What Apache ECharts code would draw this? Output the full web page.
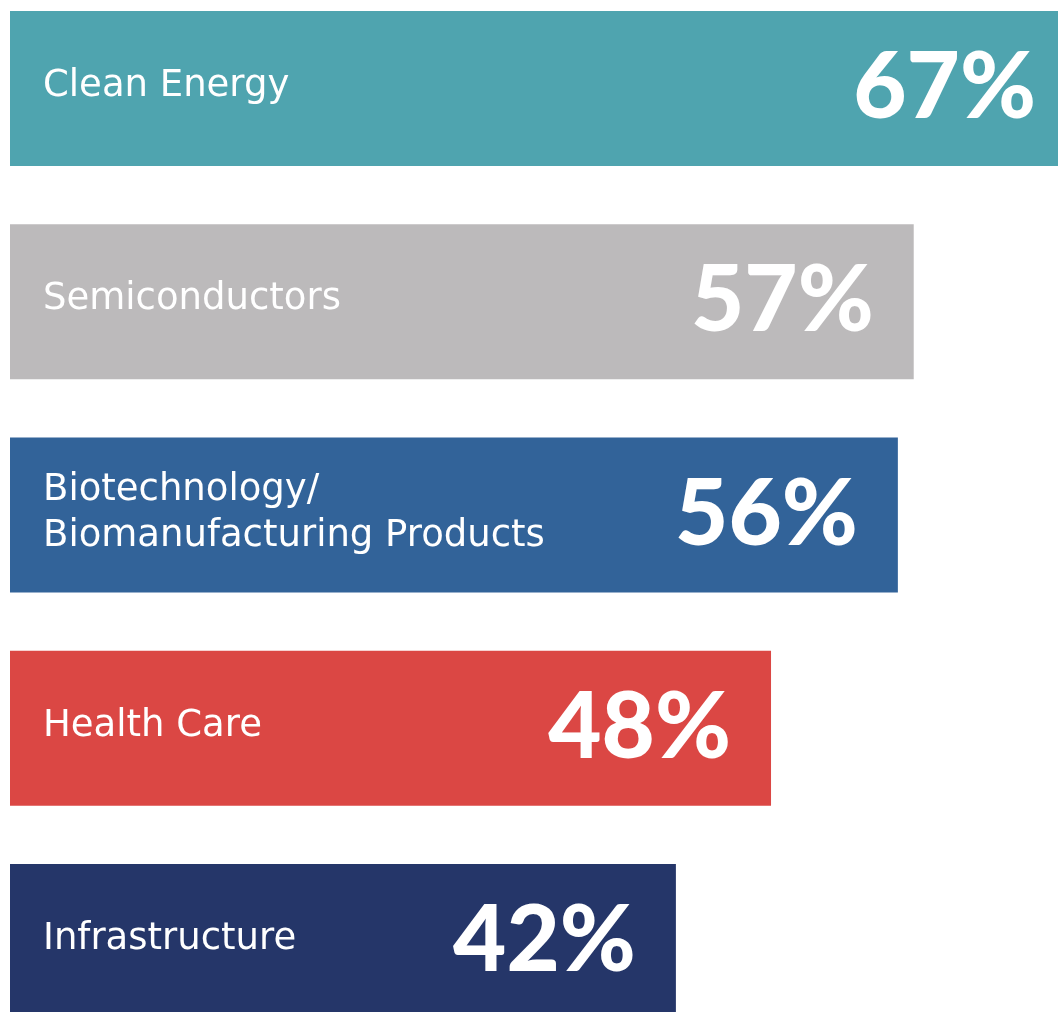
<!DOCTYPE html>
<html>
<head>
<meta charset="utf-8">
<script src="https://cdn.jsdelivr.net/npm/echarts@6/dist/echarts.min.js"></script>
<style>
  html, body { margin: 0; padding: 0; background: #fff; overflow: hidden; }
  #chart { position: absolute; left: 0; top: -18px; width: 1058px; height: 1066px; }
</style>
</head>
<body>
<div id="chart"></div>
<script>
// data
var categories = ['Clean Energy', 'Semiconductors', 'Biotechnology/\nBiomanufacturing Products', 'Health Care', 'Infrastructure'];
var values = [67, 57, 56, 48, 42];
var colors = ['#4fa4af', '#bcbabb', '#326399', '#db4744', '#253669'];

var chart = echarts.init(document.getElementById('chart'));

var option = {
    animation: false,
    grid: { left: 10, right: 0, top: 0, bottom: 0, containLabel: false },
    xAxis: { type: 'value', min: 0, max: 66.1, show: false },
    yAxis: { type: 'category', data: categories, inverse: true, show: false },
    series: [
        {
            type: 'bar',
            barCategoryGap: '27.3%',
            data: values.map(function (v, i) {
                return { value: v, itemStyle: { color: colors[i] } };
            }),
            label: {
                show: true,
                position: 'insideLeft',
                distance: 33,
                offset: [0, -2],
                color: '#fff',
                fontFamily: 'DejaVu Sans',
                fontSize: 37,
                lineHeight: 46,
                formatter: function (p) { return categories[p.dataIndex]; }
            }
        },
        {
            // value labels, overlaid on the same bars
            type: 'bar',
            barGap: '-100%',
            barCategoryGap: '27.3%',
            itemStyle: { color: 'transparent' },
            data: values.map(function (v, i) {
                // first bar runs past the right edge, so its label sits closer to the clip
                return i === 0 ? { value: v, label: { distance: 22 } } : v;
            }),
            label: {
                show: true,
                position: 'insideRight',
                distance: 40,
                color: '#fff',
                fontFamily: 'Lato',
                fontWeight: 900,
                fontSize: 92,
                formatter: '{c}%'
            }
        }
    ]
};

chart.setOption(option);
</script>
</body>
</html>
